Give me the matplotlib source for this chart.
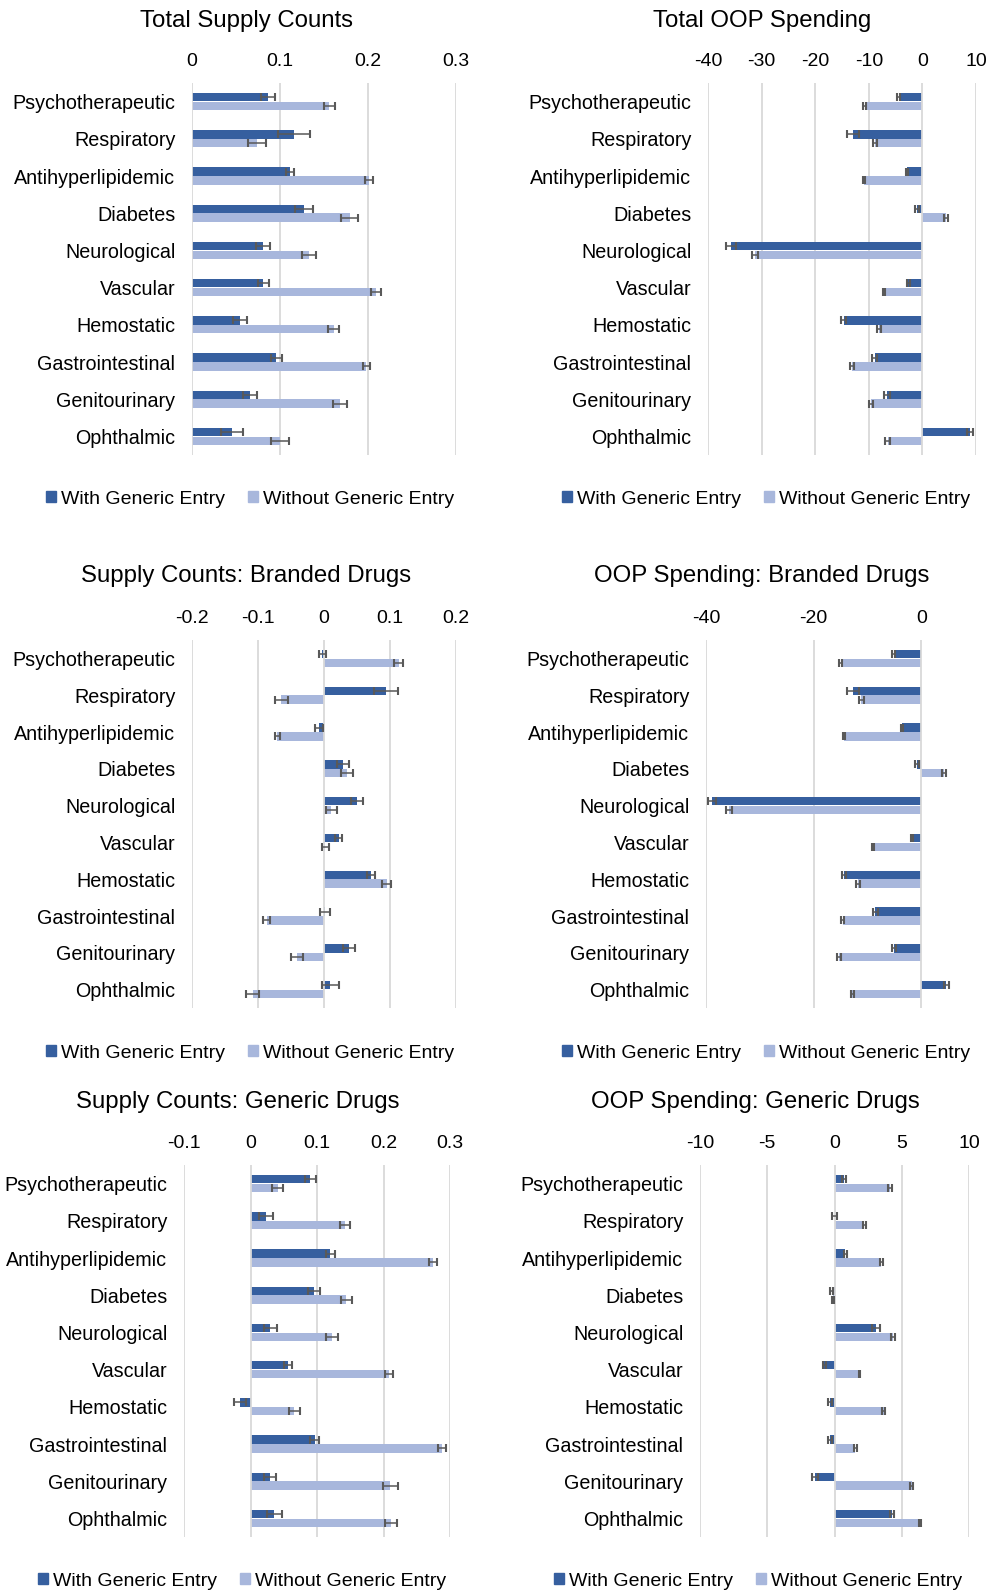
import numpy as np
import matplotlib
matplotlib.use("Agg")
import matplotlib.pyplot as plt
from matplotlib.patches import Patch

plt.rcParams["font.family"] = ["Liberation Sans", "DejaVu Sans"]
plt.rcParams["axes.unicode_minus"] = False

categories = ["Psychotherapeutic", "Respiratory", "Antihyperlipidemic", "Diabetes",
              "Neurological", "Vascular", "Hemostatic", "Gastrointestinal",
              "Genitourinary", "Ophthalmic"]

# Total supply counts
supply_with = [0.086, 0.116, 0.111, 0.127, 0.081, 0.081, 0.055, 0.096, 0.066, 0.045]
supply_with_err = [0.008, 0.018, 0.0045, 0.010, 0.008, 0.006, 0.008, 0.0065, 0.008, 0.0125]
supply_without = [0.156, 0.074, 0.201, 0.179, 0.133, 0.209, 0.161, 0.198, 0.168, 0.100]
supply_without_err = [0.0065, 0.010, 0.0045, 0.010, 0.008, 0.006, 0.0065, 0.004, 0.008, 0.010]

# Total out-of-pocket spending
oop_with = [-4.4, -13.0, -2.9, -1.0, -35.7, -2.6, -14.7, -8.9, -6.6, 8.9]
oop_with_err = [0.3, 1.1, 0.2, 0.4, 0.85, 0.2, 0.5, 0.5, 0.5, 0.5]
oop_without = [-10.8, -8.8, -10.9, 4.35, -31.2, -7.2, -8.1, -13.2, -9.6, -6.5]
oop_without_err = [0.3, 0.4, 0.2, 0.4, 0.6, 0.2, 0.4, 0.4, 0.4, 0.4]

# Supply counts, branded drugs
br_supply_with = [-0.0025, 0.094, -0.007, 0.029, 0.050, 0.022, 0.071, 0.0015, 0.038, 0.0095]
br_supply_with_err = [0.005, 0.018, 0.006, 0.009, 0.0085, 0.005, 0.0065, 0.007, 0.0085, 0.0125]
br_supply_without = [0.113, -0.065, -0.071, 0.035, 0.011, 0.002, 0.095, -0.087, -0.041, -0.108]
br_supply_without_err = [0.007, 0.010, 0.004, 0.009, 0.0085, 0.005, 0.0065, 0.005, 0.009, 0.010]

# OOP spending, branded drugs
br_oop_with = [-5.1, -12.6, -3.5, -0.8, -38.9, -1.7, -14.4, -8.5, -5.0, 4.7]
br_oop_with_err = [0.3, 1.1, 0.2, 0.4, 0.8, 0.2, 0.4, 0.4, 0.4, 0.4]
br_oop_without = [-15.0, -11.1, -14.3, 4.2, -35.7, -8.9, -11.7, -14.6, -15.3, -12.8]
br_oop_without_err = [0.3, 0.4, 0.2, 0.4, 0.5, 0.2, 0.4, 0.3, 0.3, 0.3]

# Supply counts, generic drugs
gen_supply_with = [0.090, 0.023, 0.120, 0.095, 0.030, 0.057, -0.016, 0.0965, 0.029, 0.036]
gen_supply_with_err = [0.008, 0.0105, 0.0065, 0.009, 0.010, 0.006, 0.009, 0.0065, 0.009, 0.011]
gen_supply_without = [0.041, 0.142, 0.274, 0.144, 0.123, 0.2085, 0.066, 0.288, 0.2105, 0.2115]
gen_supply_without_err = [0.008, 0.007, 0.0063, 0.0085, 0.009, 0.0065, 0.0085, 0.0063, 0.011, 0.009]

# OOP spending, generic drugs
gen_oop_with = [0.72, 0.02, 0.8, -0.22, 3.1, -0.75, -0.3, -0.3, -1.44, 4.3]
gen_oop_with_err = [0.15, 0.17, 0.1, 0.1, 0.3, 0.1, 0.15, 0.15, 0.2, 0.15]
gen_oop_without = [4.14, 2.23, 3.47, -0.1, 4.37, 1.84, 3.65, 1.56, 5.73, 6.35]
gen_oop_without_err = [0.15, 0.1, 0.1, 0.05, 0.15, 0.05, 0.1, 0.1, 0.1, 0.1]

DARK = "#365F9F"
LIGHT = "#A8B7DC"
GRID = "#D9D9D9"
ERR = "#595959"
W, H = 990, 1591

fig = plt.figure(figsize=(W / 100, H / 100), dpi=100)


def add_panel(rect, title, title_xy, legend_xy, xlim, xticks,
              with_vals, with_err, without_vals, without_err):
    x0, x1, top, bottom = rect
    ax = fig.add_axes([x0 / W, 1 - bottom / H, (x1 - x0) / W, (bottom - top) / H])
    y = np.arange(len(categories))
    off, h = 0.118, 0.23
    ax.barh(y - off, with_vals, height=h, color=DARK, zorder=3)
    ax.barh(y + off, without_vals, height=h, color=LIGHT, zorder=3)
    for vals, errs, yy in [(with_vals, with_err, y - off), (without_vals, without_err, y + off)]:
        ax.errorbar(vals, yy, xerr=errs, fmt="none", ecolor=ERR, elinewidth=1.1,
                    capsize=3.0, capthick=1.5, zorder=5)
    ax.set_xlim(*xlim)
    ax.set_ylim(len(categories) - 0.5, -0.5)
    ax.set_xticks(xticks)
    ax.set_xticklabels([f"{t:g}" for t in xticks])
    ax.xaxis.tick_top()
    ax.tick_params(axis="x", length=0, pad=9.5, labelsize=14)
    ax.set_yticks(y)
    ax.set_yticklabels(categories)
    ax.tick_params(axis="y", length=0, pad=12, labelsize=14.2)
    for t in xticks:
        # the zero line sits on top of the bars, like a category axis
        ax.axvline(t, color=GRID, lw=1.3, zorder=4 if t == 0 else 1)
    for s in ax.spines.values():
        s.set_visible(False)
    fig.text(title_xy[0] / W, 1 - title_xy[1] / H, title, ha="center", va="center",
             fontsize=17.3)
    handles = [Patch(color=DARK, label="With Generic Entry"),
               Patch(color=LIGHT, label="Without Generic Entry")]
    fig.legend(handles=handles, loc="center", ncol=2, frameon=False, fontsize=14,
               bbox_to_anchor=(legend_xy[0] / W, 1 - legend_xy[1] / H),
               handlelength=0.55, handleheight=0.55, handletextpad=0.25,
               columnspacing=1.15, borderpad=0)
    return ax


add_panel((192, 456, 83, 455), "Total Supply Counts", (246, 20.5), (250, 499),
          (0, 0.3), [0, 0.1, 0.2, 0.3],
          supply_with, supply_with_err, supply_without, supply_without_err)
add_panel((708, 976, 83, 455), "Total OOP Spending", (762, 20.5), (766, 499),
          (-40, 10), [-40, -30, -20, -10, 0, 10],
          oop_with, oop_with_err, oop_without, oop_without_err)
add_panel((192, 456, 640, 1008), "Supply Counts: Branded Drugs", (246, 576), (250, 1053),
          (-0.2, 0.2), [-0.2, -0.1, 0, 0.1, 0.2],
          br_supply_with, br_supply_with_err, br_supply_without, br_supply_without_err)
add_panel((706, 975, 640, 1008), "OOP Spending: Branded Drugs", (762, 576), (766, 1053),
          (-40, 10), [-40, -20, 0],
          br_oop_with, br_oop_with_err, br_oop_without, br_oop_without_err)
add_panel((184, 450, 1165, 1537), "Supply Counts: Generic Drugs", (238, 1102), (242, 1581),
          (-0.1, 0.3), [-0.1, 0, 0.1, 0.2, 0.3],
          gen_supply_with, gen_supply_with_err, gen_supply_without, gen_supply_without_err)
add_panel((700, 969, 1165, 1537), "OOP Spending: Generic Drugs", (755, 1102), (758, 1581),
          (-10, 10), [-10, -5, 0, 5, 10],
          gen_oop_with, gen_oop_with_err, gen_oop_without, gen_oop_without_err)

fig.savefig("out.png", dpi=100)
